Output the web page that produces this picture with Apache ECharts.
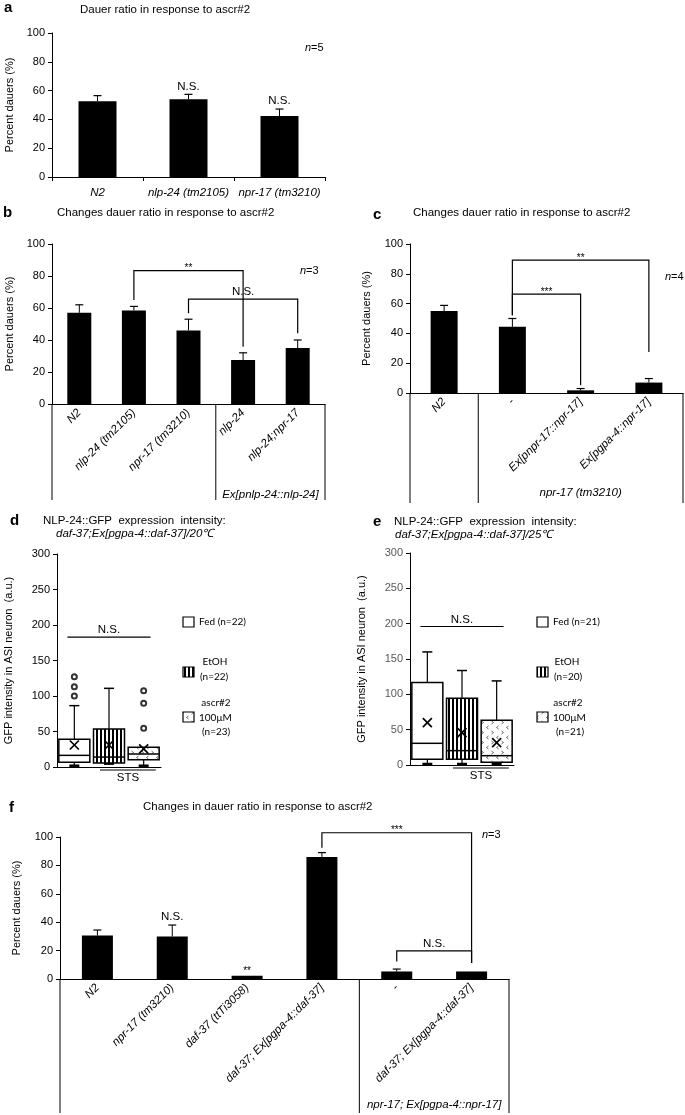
<!DOCTYPE html>
<html><head><meta charset="utf-8">
<script src="https://cdn.jsdelivr.net/npm/echarts@6.0.0/dist/echarts.min.js"></script>
<style>html,body{margin:0;padding:0;background:#fff}#c{width:685px;height:1115px}</style>
</head><body><div id="c"></div>
<script>
// ================= DATA =================
const catA = ['N2', 'nlp-24 (tm2105)', 'npr-17 (tm3210)'];
const meanA = [52.6, 54, 42.4];
const errA = [56.5, 57.4, 47.2];
const sigA = ['', 'N.S.', 'N.S.'];

const catB = ['N2', 'nlp-24 (tm2105)', 'npr-17 (tm3210)', 'nlp-24', 'nlp-24;npr-17'];
const meanB = [57, 58.5, 46, 27.5, 35];
const errB = [62, 61, 53, 32, 40];
const bracketB = [[1, 83.3, 3, 65, 35.8], [2, 65.6, 4, 56.7, 44.2]];
const bracketLabelB = ['**', 'N.S.'];
const groupB = 'Ex[pnlp-24::nlp-24]';

const catC = ['N2', '-', 'Ex[pnpr-17::npr-17]', 'Ex[pgpa-4::npr-17]'];
const meanC = [55, 44.4, 1.8, 7];
const errC = [58.8, 50, 3, 9.7];
const bracketC = [[1, 89.2, 3, 52.2, 27.6], [1, 66.4, 2, 52.2, 5.2]];
const bracketLabelC = ['**', '***'];
const groupC = 'npr-17 (tm3210)';

const catD = ['Fed', 'EtOH', 'ascr#2'];
// [index, min, Q1, median, Q3, max, mean]
const boxD = [[0, 1.8, 6.6, 16.4, 39, 86.4, 31], [1, 4.7, 5.6, 14, 53.5, 110.8, 31], [2, 1.8, 10.3, 18.3, 27.7, 27.7, 25.4]];
const outlierD = [[0, 127], [0, 113], [0, 100], [2, 107.5], [2, 89.7], [2, 54.5]];
const nsD = 183;
const legendD = [['Fed (n=22)'], ['EtOH', '(n=22)'], ['ascr#2', '100μM', '(n=23)']];

const catE = ['Fed', 'EtOH', 'ascr#2'];
const boxE = [[0, 1.4, 8, 30.7, 116.7, 160, 60], [1, 1.4, 8, 20.3, 94.5, 133.7, 45.8], [2, 1.4, 3.8, 13.2, 63.3, 119, 31.6]];
const outlierE = [];
const nsE = 196;
const legendE = [['Fed (n=21)'], ['EtOH', '(n=20)'], ['ascr#2', '100μM', '(n=21)']];

const catF = ['N2', 'npr-17 (tm3210)', 'daf-37 (ttTi3058)', 'daf-37; Ex[pgpa-4::daf-37]', '-', 'daf-37; Ex[pgpa-4::daf-37]'];
const meanF = [30.6, 29.9, 2.3, 86, 5.3, 5.3];
const errF = [34.5, 38, null, 89, 7, null];
const sigF = ['', 'N.S.', '**', '', '', ''];
const bracketF = [[3, 103, 5, 92.5, 11.2], [4, 19.8, 5, 12.3, 11.2]];
const bracketLabelF = ['***', 'N.S.'];
const groupF = 'npr-17; Ex[pgpa-4::npr-17]';

const nLabels = ['5', '3', '4', '3'];
const yNameDauer = 'Percent dauers (%)';
const yNameGFP = 'GFP intensity in ASI neuron  (a.u.)';

// ================= STYLE / HELPERS =================
const FONT = '"Liberation Sans", Arial, sans-serif';
const LFONT = 'Lato, "Open Sans", sans-serif';

function makePattern(kind) {
  const cv = document.createElement('canvas');
  const g = cv.getContext ? null : null;
  if (kind === 'stripe') {
    cv.width = 4; cv.height = 4;
    const c = cv.getContext('2d');
    c.fillStyle = '#fff'; c.fillRect(0, 0, 4, 4);
    c.fillStyle = '#000'; c.fillRect(0, 0, 2, 4);
  } else {
    cv.width = 10; cv.height = 10;
    const c = cv.getContext('2d');
    c.fillStyle = '#fff'; c.fillRect(0, 0, 10, 10);
    c.strokeStyle = '#444'; c.lineWidth = 0.8;
    c.beginPath();
    c.moveTo(1.5, 1); c.lineTo(3.5, 2.5); c.lineTo(1.5, 4);
    c.moveTo(8.5, 6); c.lineTo(6.5, 7.5); c.lineTo(8.5, 9);
    c.stroke();
  }
  return {image: cv, repeat: 'repeat'};
}
const PAT_STRIPE = makePattern('stripe');
const PAT_CHEV = makePattern('chev');
const boxFills = ['#fff', PAT_STRIPE, PAT_CHEV];

function ln(x1, y1, x2, y2, w) {
  return {type: 'line', shape: {x1, y1, x2, y2}, style: {stroke: '#000', lineWidth: w || 1}};
}
function txt(x, y, text, size, align, vAlign, italic) {
  return {type: 'text', x, y, style: {text, fill: '#000', fontFamily: FONT, fontSize: size,
    fontStyle: italic ? 'italic' : 'normal', align: align || 'center', verticalAlign: vAlign || 'bottom'}};
}

function errSeries(gi, means, errs, sigs) {
  const data = means.map((m, i) => [i, errs[i] == null ? m : errs[i], m]);
  return {
    type: 'custom', xAxisIndex: gi, yAxisIndex: gi, clip: false, z: 5, silent: true,
    encode: {x: 0, y: 1}, data,
    renderItem: function (params, api) {
      const i = api.value(0), top = api.value(1), m = api.value(2);
      const pb = api.coord([i, m]), pt = api.coord([i, top]);
      const ch = [];
      if (top > m) {
        ch.push(ln(pb[0], pb[1], pt[0], pt[1], 1));
        ch.push(ln(pt[0] - 4, pt[1], pt[0] + 4, pt[1], 1.2));
      }
      const s = sigs[params.dataIndex];
      if (s) {
        const star = s.indexOf('*') >= 0;
        ch.push(txt(pt[0], pt[1] - (star ? -1 : 2), s, star ? 10 : 11.5, 'center', 'bottom'));
      }
      return {type: 'group', children: ch};
    }
  };
}

function bracketSeries(gi, brackets, labels) {
  return {
    type: 'custom', xAxisIndex: gi, yAxisIndex: gi, clip: false, z: 6, silent: true,
    encode: {x: 0, y: 1}, data: brackets,
    renderItem: function (params, api) {
      const i0 = api.value(0), top = api.value(1), i1 = api.value(2), l = api.value(3), r = api.value(4);
      const a = api.coord([i0, top]), b = api.coord([i1, top]);
      const al = api.coord([i0, l]), br = api.coord([i1, r]);
      const s = labels[params.dataIndex];
      const star = s.indexOf('*') >= 0;
      return {type: 'group', children: [
        {type: 'polyline', shape: {points: [[al[0], al[1]], [a[0], a[1]], [b[0], b[1]], [br[0], br[1]]]},
          style: {stroke: '#000', lineWidth: 1.2, fill: null}},
        txt((a[0] + b[0]) / 2, a[1] + (star ? 3 : -1), s, star ? 10 : 11.5, 'center', 'bottom')
      ]};
    }
  };
}

function sepSeries(gi, bounds, len, group, g0, g1, dy) {
  const data = bounds.map(b => [0, 0, b]);
  return {
    type: 'custom', xAxisIndex: gi, yAxisIndex: gi, clip: false, z: 4, silent: true,
    encode: {x: 0, y: 1}, data,
    renderItem: function (params, api) {
      const b = api.value(2);
      const c0 = api.coord([0, 0]);
      const band = api.size([1, 0])[0];
      const x = c0[0] - band / 2 + b * band;
      const ch = [ln(x, c0[1], x, c0[1] + len, 1)];
      if (params.dataIndex === 0) {
        const xm = c0[0] - band / 2 + (g0 + g1) / 2 * band;
        ch.push(txt(xm, c0[1] + dy, group, 11.5, 'center', 'middle', true));
      }
      return {type: 'group', children: ch};
    }
  };
}

function boxSeries(gi, boxes, boxW) {
  return {
    type: 'custom', xAxisIndex: gi, yAxisIndex: gi, clip: false, z: 5, silent: true,
    encode: {x: 0, y: 2}, data: boxes,
    renderItem: function (params, api) {
      const i = api.value(0);
      const v = [1, 2, 3, 4, 5, 6].map(k => api.value(k));
      const cx = api.coord([i, 0])[0];
      const y = val => api.coord([i, val])[1];
      const hw = boxW / 2, cap = 5;
      const ch = [];
      if (v[4] > v[3]) {
        ch.push(ln(cx, y(v[3]), cx, y(v[4]), 1.2));
        ch.push(ln(cx - cap, y(v[4]), cx + cap, y(v[4]), 1.5));
      }
      ch.push(ln(cx, y(v[1]), cx, y(v[0]), 1.2));
      ch.push(ln(cx - cap, y(v[0]), cx + cap, y(v[0]), 2.5));
      ch.push({type: 'rect', shape: {x: cx - hw, y: y(v[3]), width: boxW, height: y(v[1]) - y(v[3])},
        style: {fill: boxFills[params.dataIndex], stroke: '#000', lineWidth: 1.5}});
      ch.push(ln(cx - hw, y(v[2]), cx + hw, y(v[2]), 1.5));
      const my = y(v[5]), s = 4.5;
      ch.push(ln(cx - s, my - s, cx + s, my + s, 1.7));
      ch.push(ln(cx - s, my + s, cx + s, my - s, 1.7));
      return {type: 'group', children: ch};
    }
  };
}

function nsStsSeries(gi, nsVal) {
  return {
    type: 'custom', xAxisIndex: gi, yAxisIndex: gi, clip: false, z: 5, silent: true,
    encode: {x: 0, y: 1}, data: [[0, nsVal]],
    renderItem: function (params, api) {
      const v = api.value(1);
      const band = api.size([1, 0])[0];
      const c0 = api.coord([0, v]), c1 = api.coord([1, 0]), c2 = api.coord([2, v]);
      const x1 = c0[0] - 0.2 * band, x2 = c2[0] + 0.2 * band;
      const sx1 = c1[0] - 0.26 * band, sx2 = c2[0] + 0.35 * band, sy = c1[1] + 3;
      return {type: 'group', children: [
        ln(x1, c0[1], x2, c0[1], 1.2),
        txt((x1 + x2) / 2, c0[1] - 1, 'N.S.', 11.5, 'center', 'bottom'),
        ln(sx1, sy, sx2, sy, 1.2),
        txt((sx1 + sx2) / 2, sy + 2, 'STS', 11.5, 'center', 'top')
      ]};
    }
  };
}

// ================= AXES =================
const grids = [
  {left: 52, top: 33, width: 273, height: 144},
  {left: 52, top: 244, width: 273, height: 160},
  {left: 410, top: 244, width: 273, height: 149},
  {left: 57, top: 554, width: 104, height: 213},
  {left: 410, top: 553, width: 104, height: 212},
  {left: 60, top: 837, width: 449, height: 142}
].map(g => Object.assign({outerBoundsMode: 'none', containLabel: false}, g));

function yAx(gi, max, interval, name, gap, labelColor) {
  return {
    gridIndex: gi, type: 'value', min: 0, max, interval, name, nameLocation: 'middle', nameGap: gap,
    nameTextStyle: {fontFamily: FONT, fontSize: 11, color: '#000'},
    axisLine: {show: true, lineStyle: {color: '#000', width: 1}},
    axisTick: {show: true, length: 4, inside: false, lineStyle: {color: '#000', width: 1}},
    splitLine: {show: false},
    axisLabel: {fontFamily: FONT, fontSize: 11, color: labelColor || '#000', margin: 7}
  };
}
function xAx(gi, data, rotate, showTick, showLabel, margin) {
  return {
    gridIndex: gi, type: 'category', data, boundaryGap: true,
    axisLine: {show: true, lineStyle: {color: '#000', width: 1}},
    axisTick: {show: !!showTick, length: 4, alignWithLabel: false, interval: 0, lineStyle: {color: '#000'}},
    splitLine: {show: false},
    axisLabel: {show: showLabel !== false, interval: 0, rotate: rotate || 0, hideOverlap: false,
      fontFamily: FONT, fontSize: 11.5, fontStyle: 'italic', color: '#000', margin: margin || 8}
  };
}

const xAxes = [
  xAx(0, catA, 0, true, true, 10),
  xAx(1, catB, 45, false, true, 7),
  xAx(2, catC, 45, false, true, 7),
  xAx(3, catD, 0, false, false),
  xAx(4, catE, 0, false, false),
  xAx(5, catF, 45, false, true, 7)
];
const yAxes = [
  yAx(0, 100, 20, yNameDauer, 37),
  yAx(1, 100, 20, yNameDauer, 37),
  yAx(2, 100, 20, yNameDauer, 38),
  yAx(3, 300, 50, yNameGFP, 43),
  yAx(4, 300, 50, yNameGFP, 43, '#595959'),
  yAx(5, 100, 20, yNameDauer, 38)
];

function barS(gi, data, w) {
  return {type: 'bar', xAxisIndex: gi, yAxisIndex: gi, data, barWidth: w, itemStyle: {color: '#000'}, silent: true, z: 3};
}
function outlierS(gi, data) {
  return {type: 'scatter', xAxisIndex: gi, yAxisIndex: gi, data, symbol: 'emptyCircle', symbolSize: 5,
    itemStyle: {color: '#000', borderColor: '#000', borderWidth: 1.3}, silent: true, z: 6};
}

const series = [
  barS(0, meanA, 38), errSeries(0, meanA, errA, sigA),
  barS(1, meanB, 24), errSeries(1, meanB, errB, []), bracketSeries(1, bracketB, bracketLabelB),
  sepSeries(1, [0, 3, 5], 96, groupB, 3, 5, 91),
  barS(2, meanC, 27), errSeries(2, meanC, errC, []), bracketSeries(2, bracketC, bracketLabelC),
  sepSeries(2, [0, 1, 4], 110, groupC, 1, 4, 100),
  boxSeries(3, boxD, 31), outlierS(3, outlierD), nsStsSeries(3, nsD),
  boxSeries(4, boxE, 31), outlierS(4, outlierE), nsStsSeries(4, nsE),
  barS(5, meanF, 31), errSeries(5, meanF, errF, sigF), bracketSeries(5, bracketF, bracketLabelF),
  sepSeries(5, [0, 4, 6], 134, groupF, 4, 6, 126)
];

// ================= TITLES =================
function ttl(text, left, top, size, bold, italic) {
  return {text, left, top, padding: 0, itemGap: 0,
    textStyle: {fontFamily: FONT, fontSize: size, fontWeight: bold ? 'bold' : 'normal',
      fontStyle: italic ? 'italic' : 'normal', color: '#000'}};
}
const titles = [
  ttl('a', 4, 0, 15, true), ttl('Dauer ratio in response to ascr#2', 80, 4, 11.5),
  ttl('b', 3, 205, 15, true), ttl('Changes dauer ratio in response to ascr#2', 57, 207, 11.5),
  ttl('c', 373, 207, 15, true), ttl('Changes dauer ratio in response to ascr#2', 413, 207, 11.5),
  ttl('d', 10, 513, 15, true), ttl('NLP-24::GFP  expression  intensity:', 43, 515, 11.5),
  ttl('daf-37;Ex[pgpa-4::daf-37]/20℃', 56, 528, 11.5, false, true),
  ttl('e', 373, 514, 15, true), ttl('NLP-24::GFP  expression  intensity:', 394, 516, 11.5),
  ttl('daf-37;Ex[pgpa-4::daf-37]/25℃', 395, 529, 11.5, false, true),
  ttl('f', 9, 800, 15, true), ttl('Changes in dauer ratio in response to ascr#2', 143, 801, 11.5)
];

// ================= GRAPHIC (n labels, legends) =================
function nText(x, y, n) {
  return {type: 'text', x, y, silent: true, style: {text: '{i|n}=' + n, fill: '#000', fontFamily: FONT, fontSize: 11,
    verticalAlign: 'middle', align: 'left', rich: {i: {fontStyle: 'italic', fontFamily: FONT, fontSize: 11}}}};
}
function lText(x, y, text, align) {
  return {type: 'text', x, y, silent: true, style: {text, fill: '#000', fontFamily: LFONT, fontSize: 10,
    align: align || 'left', verticalAlign: 'middle'}};
}
function lRect(x, y, fill) {
  return {type: 'rect', silent: true, shape: {x, y, width: 11, height: 10}, style: {fill, stroke: '#000', lineWidth: 1.2}};
}
function legendGroup(items, rx, tx, cx) {
  return [
    lRect(rx, 617, '#fff'), lText(tx, 622, items[0][0]),
    lRect(rx, 667, PAT_STRIPE), lText(cx, 662, items[1][0], 'center'), lText(tx + 1, 677, items[1][1]),
    lRect(rx, 712, PAT_CHEV), lText(cx + 1, 703, items[2][0], 'center'), lText(tx, 718, items[2][1]),
    lText(tx + 3, 732, items[2][2])
  ];
}
const graphic = [
  nText(305, 48, nLabels[0]), nText(300, 271, nLabels[1]), nText(665, 277, nLabels[2]), nText(482, 835, nLabels[3])
].concat(legendGroup(legendD, 183, 199, 215)).concat(legendGroup(legendE, 537, 553, 567));

const chart = echarts.init(document.getElementById('c'), null, {renderer: 'canvas'});
chart.setOption({
  animation: false,
  backgroundColor: '#fff',
  textStyle: {fontFamily: FONT},
  title: titles,
  grid: grids,
  xAxis: xAxes,
  yAxis: yAxes,
  series,
  graphic
});
</script></body></html>
